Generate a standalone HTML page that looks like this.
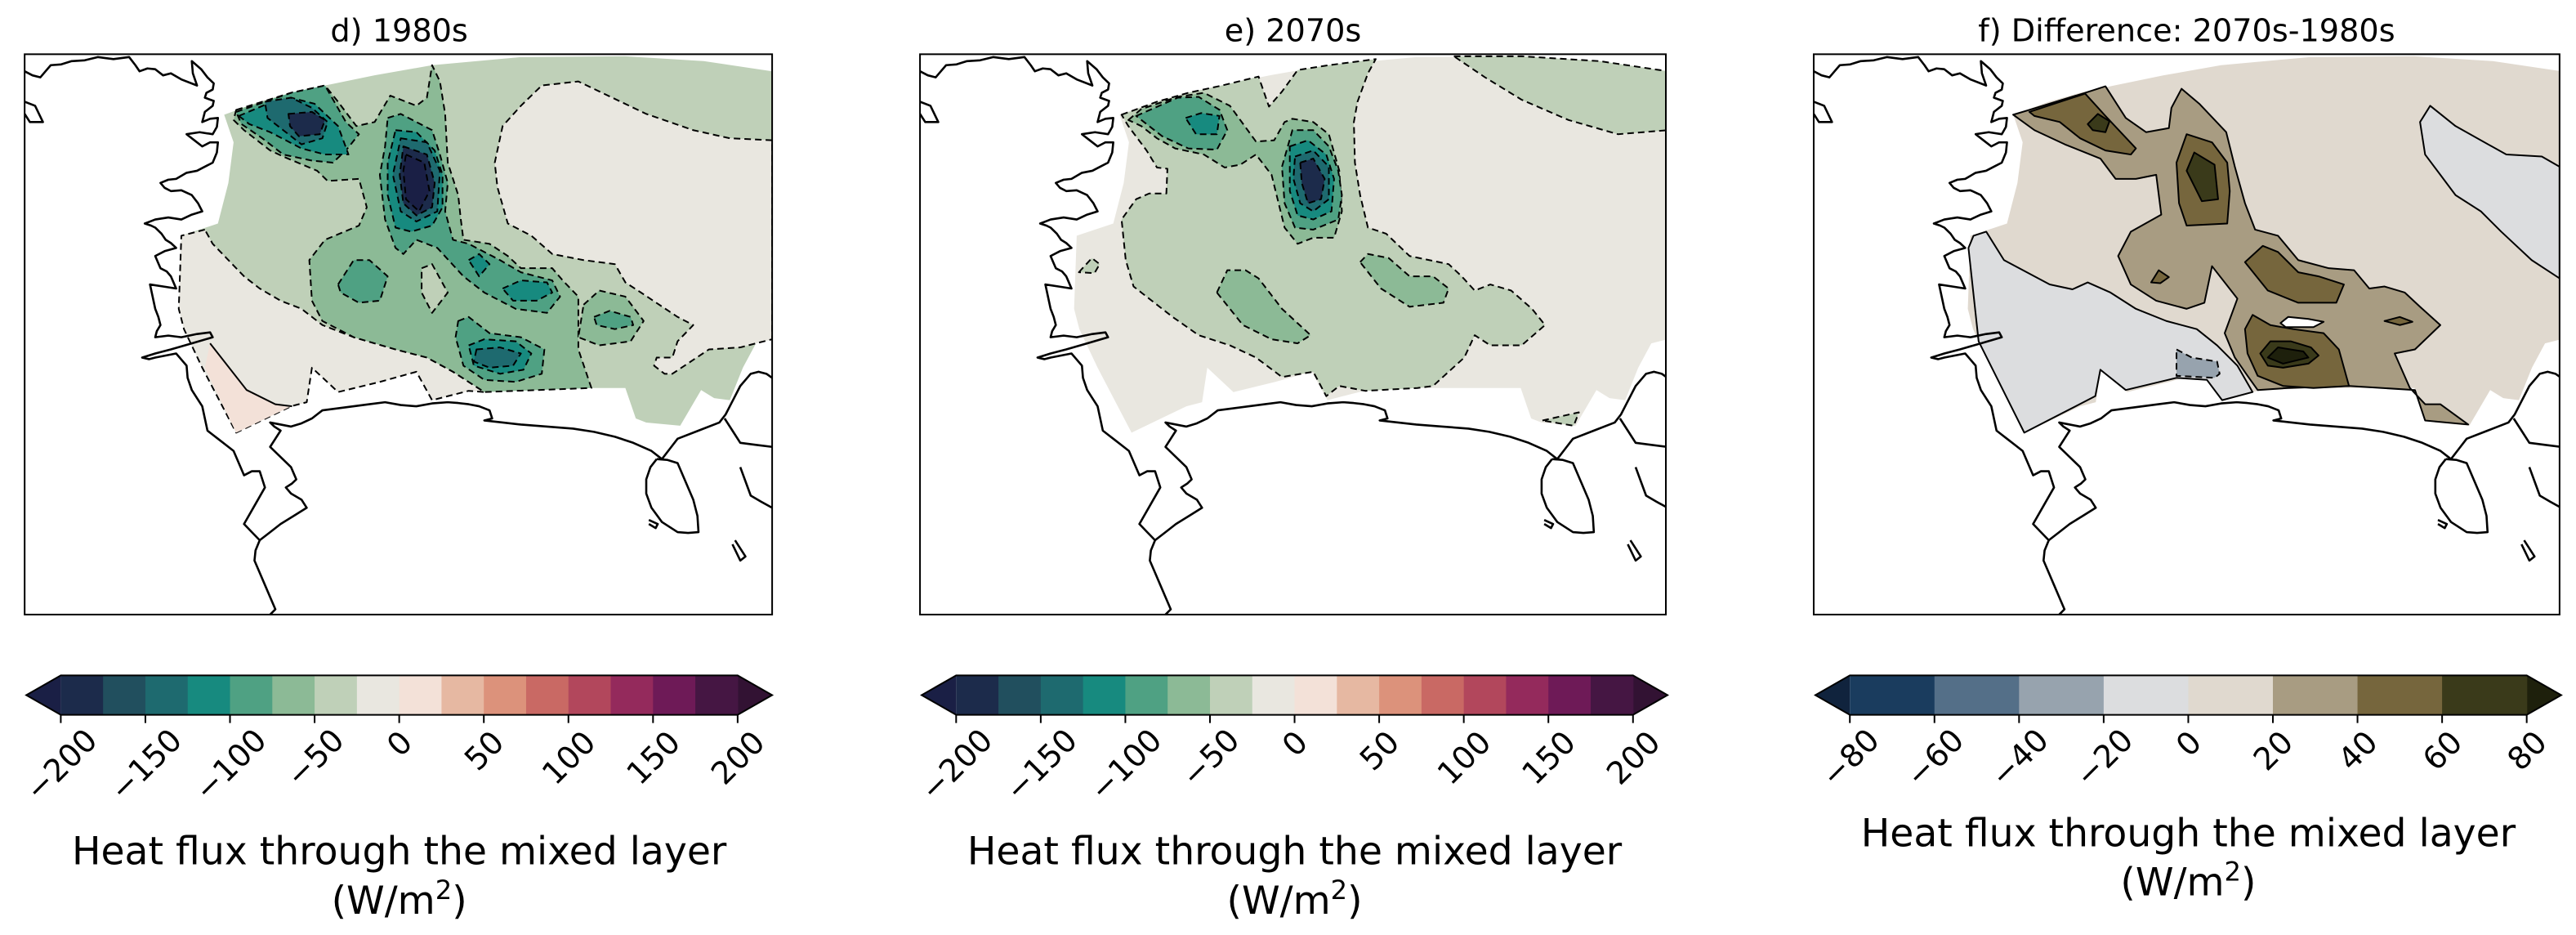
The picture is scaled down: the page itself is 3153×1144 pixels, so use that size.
<!DOCTYPE html>
<html><head><meta charset="utf-8"><style>
html,body{margin:0;padding:0;background:#fff;}
svg{display:block;font-family:"DejaVu Sans","Liberation Sans",sans-serif;}
</style></head><body>
<svg id="fig" width="3153" height="1144" viewBox="0 0 1568 569" preserveAspectRatio="none" xmlns="http://www.w3.org/2000/svg">
<defs>
<clipPath id="clipD"><rect x="15" y="33" width="455" height="341"/></clipPath>
<clipPath id="clipE"><rect x="560" y="33" width="454" height="341"/></clipPath>
<clipPath id="clipF"><rect x="1104" y="33" width="454" height="341"/></clipPath>
</defs>
<text x="243" y="25" font-size="19" text-anchor="middle">d) 1980s</text>
<text x="787" y="25" font-size="19" text-anchor="middle">e) 2070s</text>
<text x="1331" y="25" font-size="19" text-anchor="middle">f) Difference: 2070s-1980s</text>
<g id="panels"></g>
<g id="cbars"></g>
</svg>
<script>
// ---------- colorbar data ----------
const absLevels = [-200,-175,-150,-125,-100,-75,-50,-25,0,25,50,75,100,125,150,175,200];
const absColors = ["#1c2b4b","#214f5e","#1e6a6f","#178a7f","#4fa183","#8cba96","#bfd0b8","#e9e7e0","#f3e1d8","#e6b8a2","#dc927b","#c96964","#b2475c","#942a5c","#6e1a57","#451643"];
const absExtend = ["#1a1f45","#321233"];
const absTicks = [-200,-150,-100,-50,0,50,100,150,200];
const difLevels = [-80,-60,-40,-20,0,20,40,60,80];
const difColors = ["#1a3c5e","#546f88","#97a3ae","#dcdddf","#e0d9cf","#a89c82","#76663d","#3a3a1a"];
const difExtend = ["#10233d","#1e200c"];
const difTicks = [-80,-60,-40,-20,0,20,40,60,80];

// ---------- map geometry (zoom coords) ----------
const domain = [[432,282],[500,250],[560,228],[625,210],[720,185],[830,160],[1000,140],[1200,138],[1350,150],[1481,175],[1481,835],[1450,845],[1425,905],[1400,985],[1370,980],[1345,960],[1305,1048],[1240,1040],[1220,1030],[1200,955],[1130,955],[1000,955],[900,962],[830,985],[800,915],[730,940],[650,965],[600,905],[590,990],[560,1000],[455,1065],[390,905],[355,810],[345,760],[350,580],[420,550],[440,450],[450,350]];
const coast = [
 [[50,175],[65,185],[80,190],[90,175],[100,160],[120,158],[140,150],[165,148],[190,140],[220,145],[250,140],[262,160],[270,175],[285,168],[300,170],[315,185],[330,180],[350,195],[380,210],[372,180],[370,150],[388,170],[400,190],[412,205],[410,220],[398,228],[395,240],[412,248],[410,260],[395,275],[390,300],[405,292],[420,290],[418,312],[410,330],[385,325],[360,330],[375,345],[390,360],[405,350],[420,350],[418,375],[410,400],[395,410],[380,420],[360,425],[340,440],[325,442],[310,450],[318,462],[330,470],[350,468],[370,480],[382,500],[390,520],[370,528],[350,540],[325,535],[300,540],[290,545],[280,550],[292,555],[300,560],[312,575],[320,590],[330,598],[340,610],[318,618],[300,630],[306,648],[310,660],[322,668],[330,680],[335,695],[340,710],[315,705],[290,700],[295,730],[300,760],[306,780],[310,800],[303,815],[300,830],[325,826],[350,830],[380,822],[405,818],[410,830],[370,845],[330,860],[300,870],[275,880],[288,884],[300,880],[320,875],[340,870],[350,885],[360,900],[362,930],[370,960],[380,980],[390,1000],[395,1030],[400,1060],[410,1070],[420,1080],[435,1095],[450,1110],[460,1140],[470,1170],[485,1160],[500,1160],[505,1180],[510,1200],[490,1245],[470,1290],[485,1310],[500,1330],[492,1355],[490,1380],[500,1410],[510,1440],[520,1470],[530,1500],[520,1513]],
 [[500,1330],[520,1310],[540,1290],[565,1270],[590,1250],[585,1240],[580,1230],[560,1215],[550,1200],[562,1190],[570,1180],[565,1165],[560,1150],[540,1125],[520,1100],[530,1080],[540,1060],[528,1050],[520,1040],[540,1045],[560,1050],[580,1042],[600,1030],[610,1020],[620,1010],[650,1005],[680,1000],[710,995],[740,990],[770,997],[800,1000],[830,993],[860,990],[880,992],[900,995],[920,1000],[940,1010],[945,1030],[930,1035],[965,1040],[1000,1045],[1050,1050],[1100,1055],[1140,1063],[1180,1075],[1215,1090],[1250,1110],[1270,1130],[1285,1105],[1300,1080],[1340,1060],[1380,1040],[1392,1020],[1400,1000],[1410,975],[1420,950],[1430,935],[1440,920],[1455,915],[1470,920],[1481,930]],
 [[1260,1130],[1280,1132],[1300,1140],[1315,1185],[1330,1230],[1338,1270],[1340,1310],[1320,1312],[1300,1310],[1270,1285],[1250,1250],[1240,1215],[1240,1180],[1248,1150],[1260,1130]],
 [[1390,1030],[1405,1060],[1420,1090],[1450,1095],[1481,1100]],
 [[1420,1150],[1430,1185],[1440,1220],[1460,1235],[1481,1250]],
 [[50,250],[70,260],[85,300],[60,300],[50,280]],
 [[1410,1330],[1430,1370],[1420,1380],[1405,1340]],
 [[1245,1280],[1262,1290],[1258,1300],[1245,1290]]
];
const dFills = [
 ["#e9e7e0",[[1481,345],[1400,340],[1330,320],[1240,280],[1110,200],[1040,210],[1000,260],[965,310],[950,400],[955,460],[975,550],[1020,580],[1060,625],[1120,640],[1180,650],[1200,695],[1230,720],[1300,780],[1330,800],[1300,840],[1290,880],[1260,880],[1255,900],[1275,920],[1290,920],[1360,860],[1420,855],[1450,845],[1481,835]]],
 ["#e9e7e0",[[395,565],[350,580],[345,760],[355,810],[390,905],[455,1065],[560,1000],[590,990],[600,905],[650,965],[730,940],[800,915],[830,985],[900,962],[930,965],[870,915],[820,880],[760,860],[680,830],[620,800],[580,760],[540,740],[500,710],[470,680],[440,640],[410,600]]],
 ["#f3e1d8",[[395,905],[405,845],[475,960],[530,995],[560,1000],[455,1065]]],
 ["#8cba96",[[455,270],[560,228],[625,210],[650,250],[685,310],[720,300],[750,235],[800,260],[820,240],[830,160],[845,200],[855,280],[860,400],[880,480],[885,540],[890,590],[940,600],[975,630],[1000,660],[1060,660],[1080,690],[1110,730],[1110,860],[1135,955],[930,965],[870,915],[820,880],[760,860],[680,830],[620,790],[600,740],[595,640],[625,590],[690,555],[705,510],[690,440],[630,445],[610,420],[545,385],[520,370],[470,320],[450,295]]],
 ["#bfd0b8",[[810,660],[830,650],[860,720],[830,770],[810,720]]],
 ["#8cba96",[[1120,750],[1150,715],[1200,730],[1235,790],[1210,840],[1150,850],[1110,830]]],
 ["#4fa183",[[455,275],[560,228],[625,210],[665,300],[690,330],[665,370],[640,400],[600,395],[545,380],[505,340],[465,305]]],
 ["#4fa183",[[745,290],[770,280],[830,320],[845,380],[860,450],[855,520],[870,590],[900,600],[960,640],[1000,670],[1060,690],[1075,730],[1050,770],[990,760],[930,720],[890,680],[840,610],[800,590],[775,625],[760,610],[740,540],[730,430],[740,360]]],
 ["#4fa183",[[880,790],[900,780],[940,820],[1000,830],[1045,860],[1040,920],[990,940],[930,935],[890,900],[875,830]]],
 ["#4fa183",[[650,700],[680,640],[710,640],[745,680],[730,740],[690,745],[655,720]]],
 ["#4fa183",[[1140,780],[1170,765],[1210,780],[1215,800],[1180,810],[1145,800]]],
 ["#178a7f",[[460,285],[515,255],[560,240],[605,255],[650,310],[670,380],[625,380],[580,365],[520,325],[480,305]]],
 ["#178a7f",[[760,320],[800,325],[835,370],[850,430],[850,510],[830,555],[790,570],[760,560],[745,480],[745,400]]],
 ["#178a7f",[[900,640],[920,625],[940,650],[920,680]]],
 ["#178a7f",[[900,850],[930,835],[990,840],[1020,870],[1005,910],[960,920],[910,900]]],
 ["#178a7f",[[965,710],[1000,690],[1050,695],[1060,720],[1030,740],[985,740]]],
 ["#1e6a6f",[[510,250],[560,240],[600,265],[630,300],[620,340],[580,355],[545,320],[515,290]]],
 ["#1e6a6f",[[770,340],[820,350],[845,420],[840,520],[800,545],[770,520],[755,430]]],
 ["#1e6a6f",[[915,860],[960,855],[1000,870],[985,900],[940,905],[910,890]]],
 ["#1c2b4b",[[555,280],[600,275],[625,295],[615,330],[575,335],[558,310]]],
 ["#1c2b4b",[[775,360],[820,380],[835,450],[830,510],[800,530],[775,500],[768,430]]],
 ["#1a1f45",[[780,380],[815,400],[825,470],[805,520],[780,490],[775,420]]]
];
const eFills = [
 ["#bfd0b8",[[1070,138],[1200,138],[1350,150],[1481,175],[1481,320],[1385,330],[1290,295],[1200,245],[1130,190]]],
 ["#bfd0b8",[[432,282],[500,250],[560,228],[625,210],[695,188],[715,262],[740,225],[770,172],[830,160],[920,145],[905,180],[885,250],[878,300],[880,400],[890,480],[905,560],[940,575],[985,630],[1060,650],[1085,680],[1110,715],[1140,700],[1180,715],[1220,760],[1245,800],[1200,850],[1140,850],[1110,825],[1090,880],[1030,950],[1000,955],[900,962],[850,950],[825,975],[800,915],[740,928],[690,880],[640,850],[580,825],[530,780],[455,705],[440,640],[432,540],[460,490],[485,476],[518,476],[520,415],[500,412],[480,370],[445,310]]],
 ["#bfd0b8",[[350,670],[375,635],[390,650],[380,672]]],
 ["#bfd0b8",[[1240,1035],[1310,1015],[1300,1048]]],
 ["#8cba96",[[445,295],[470,268],[540,238],[590,228],[640,260],[690,348],[725,345],[745,300],[760,292],[800,300],[830,330],[850,420],[855,520],[840,585],[800,585],[770,600],[745,560],[720,430],[690,380],[660,405],[630,412],[590,380],[535,365],[500,340],[470,310]]],
 ["#8cba96",[[615,720],[635,665],[670,665],[695,685],[740,760],[795,825],[770,845],[720,835],[665,800],[640,760]]],
 ["#8cba96",[[890,645],[905,625],[945,635],[985,680],[1030,680],[1060,710],[1050,745],[985,755],[930,710]]],
 ["#4fa183",[[460,285],[540,240],[580,238],[620,270],[635,320],[615,368],[560,365],[510,335],[480,305]]],
 ["#4fa183",[[740,410],[760,320],[800,320],[830,360],[848,420],[855,480],[848,540],[800,565],[765,560],[745,500]]],
 ["#178a7f",[[555,290],[585,278],[620,285],[615,330],[575,330]]],
 ["#178a7f",[[755,360],[790,345],[825,380],[840,440],[835,520],[800,540],[770,530],[755,470]]],
 ["#1e6a6f",[[765,385],[800,370],[830,410],[830,490],[800,520],[775,500],[762,440]]],
 ["#1c2b4b",[[775,400],[800,390],[822,440],[815,490],[790,500],[778,450]]]
];
const fFills = [
 ["#dcdddf",[[405,570],[440,640],[530,700],[575,712],[605,695],[650,720],[700,760],[760,790],[820,810],[860,850],[900,900],[930,965],[870,985],[840,935],[780,930],[680,960],[630,910],[620,975],[480,1065],[390,840],[370,610],[380,580]]],
 ["#dcdddf",[[1280,260],[1330,310],[1430,380],[1500,385],[1535,410],[1535,685],[1480,640],[1420,570],[1380,520],[1330,480],[1300,430],[1270,380],[1260,300]]],
 ["#97a3ae",[[780,860],[810,880],[860,890],[865,920],[855,930],[780,925]]],
 ["#a89c82",[[458,282],[490,270],[600,228],[640,212],[680,290],[720,325],[765,315],[770,265],[790,218],[825,255],[878,325],[895,410],[915,500],[935,565],[980,580],[1020,640],[1080,660],[1130,665],[1160,710],[1190,705],[1230,720],[1260,755],[1300,800],[1250,860],[1210,870],[1240,955],[1270,995],[1300,995],[1355,1045],[1270,1035],[1250,960],[1120,950],[1000,955],[940,960],[920,925],[895,880],[875,820],[900,735],[850,655],[835,745],[800,760],[740,740],[690,700],[665,630],[690,570],[750,528],[740,430],[700,440],[660,440],[630,390],[560,355],[500,320]]],
 ["#76663d",[[490,275],[600,230],[640,285],[700,365],[690,380],[640,370],[590,340],[550,300],[500,285]]],
 ["#76663d",[[780,400],[800,330],[850,350],[880,400],[885,470],[880,550],[800,555],[785,500]]],
 ["#76663d",[[915,645],[950,605],[980,620],[1020,670],[1060,680],[1110,700],[1095,745],[1020,745],[960,715]]],
 ["#76663d",[[730,695],[745,665],[765,682],[748,697]]],
 ["#76663d",[[915,810],[930,775],[965,800],[1010,810],[1070,820],[1100,860],[1120,950],[1050,955],[990,950],[940,925],[920,870]]],
 ["#76663d",[[1190,790],[1220,780],[1245,792],[1220,800]]],
 ["#ffffff",[[985,795],[1000,780],[1040,785],[1070,792],[1050,805],[995,805]]],
 ["#3a3a1a",[[605,305],[625,280],[648,298],[640,325],[615,320]]],
 ["#3a3a1a",[[800,420],[815,375],[855,405],[862,490],[830,495]]],
 ["#3a3a1a",[[945,870],[965,840],[1005,840],[1045,855],[1060,875],[1040,895],[990,905],[960,900]]],
 ["#1e200c",[[960,880],[980,855],[1030,865],[1040,880],[990,895]]]
];

const NS="http://www.w3.org/2000/svg";
function mk(tag, attrs, parent){const e=document.createElementNS(NS,tag);for(const k in attrs)e.setAttribute(k,attrs[k]);parent.appendChild(e);return e;}
function pts(a){return a.map(p=>p[0]+","+p[1]).join(" ");}
const panelsG=document.getElementById('panels');

const PT = {
 d:{x0:15, zx0:50, sx:455/1431, clip:"clipD", fills:dFills, dash:true},
 e:{x0:560, zx0:45, sx:454/1432, clip:"clipE", fills:eFills, dash:true},
 f:{x0:1104, zx0:65, sx:454/1470, clip:"clipF", fills:fFills, dash:false}
};
const SY=341/1380, Y0=33, ZY0=133;
function tf(x0,zx0,sx){return `translate(${x0},${Y0}) scale(${sx},${SY}) translate(${-zx0},${-ZY0})`;}
const domColor={d:"#bfd0b8", e:"#e9e7e0", f:"#e0d9cf"};

["d","e","f"].forEach(k=>{
  const P=PT[k];
  const g=mk('g',{'clip-path':`url(#${P.clip})`},panelsG);
  
  
  const dg=mk('g',{transform:`translate(${P.x0-15},0) `+tf(15,50,455/1431)},g);
  const dom=mk('polygon',{points:pts(domain),fill:domColor[k]},dg);
  
  
  const cg=mk('g',{transform:tf(P.x0,P.zx0,P.sx)},g);
  P.fills.forEach((f,i)=>{
    const pg=mk('polygon',{points:pts(f[1]),fill:f[0],stroke:"#000","stroke-width":2,"stroke-linejoin":"round","vector-effect":"non-scaling-stroke"},cg);
    if(P.dash || f[0]==="#97a3ae") pg.setAttribute('stroke-dasharray','8,5');
    if(k==="d" && f[0]==="#f3e1d8") pg.setAttribute('stroke','none');
    
    
  });
  if(k==="d"){ mk('polyline',{points:"405,845 475,960 530,995 562,1000",fill:"none",stroke:"#000","stroke-width":2,"vector-effect":"non-scaling-stroke"},cg); }
  const lg=mk('g',{transform:`translate(${P.x0-15},0) `+tf(15,50,455/1431)},g);
  coast.forEach(c=>{
    const pl=mk('polyline',{points:pts(c),fill:"none",stroke:"#000","stroke-width":2.6,"stroke-linejoin":"round","vector-effect":"non-scaling-stroke"},lg);
    
    
  });
  const fr=mk('rect',{x:P.x0,y:33,width:(k==="d"?455:454),height:341,fill:"none",stroke:"#000","stroke-width":1},panelsG);
  
  
});

// ---------- colorbars ----------
const cb=document.getElementById('cbars');
function colorbar(x0,x1,levels,colors,ext,ticks,name,labY){
  const g=mk('g',{},cb);
  
  
  const tip=21, y0=411, y1=435, ym=(y0+y1)/2;
  const xs=v=>x0+tip+(v-levels[0])/(levels[levels.length-1]-levels[0])*(x1-x0-2*tip);
  mk('polygon',{points:`${x0},${ym} ${x0+tip},${y0} ${x0+tip},${y1}`,fill:ext[0]},g);
  mk('polygon',{points:`${x1},${ym} ${x1-tip},${y0} ${x1-tip},${y1}`,fill:ext[1]},g);
  colors.forEach((c,i)=>{
    const r=mk('rect',{x:xs(levels[i]),y:y0,width:xs(levels[i+1])-xs(levels[i])+0.3,height:y1-y0,fill:c},g);
    
    
  });
  mk('polygon',{points:`${x0},${ym} ${x0+tip},${y0} ${x1-tip},${y0} ${x1},${ym} ${x1-tip},${y1} ${x0+tip},${y1}`,fill:"none",stroke:"#000","stroke-width":1},g);
  ticks.forEach(t=>{
    const x=xs(t);
    mk('line',{x1:x,y1:y1,x2:x,y2:y1+5,stroke:"#000","stroke-width":1},g);
    const s=(t<0?"\u2212":"")+Math.abs(t);
    const fs=19;
    const w=s.length*0.64*fs;
    const h=(w+0.75*fs)*0.707;
    const cy=443+h/2;
    const tx=mk('text',{x:x,y:cy+fs*0.36,"font-size":fs,"text-anchor":"middle",transform:`rotate(-45 ${x} ${cy})`},g);
    tx.textContent=s;
    
    
  });
  const cx=(x0+x1)/2;
  const l1=mk('text',{x:cx,y:labY,"font-size":23.5,"text-anchor":"middle"},g);
  l1.textContent="Heat flux through the mixed layer";
  
  
  const l2=mk('text',{x:cx,y:labY+30,"font-size":23.5,"text-anchor":"middle"},g);
  l2.innerHTML='(W/m<tspan dy="-9" font-size="16">2</tspan><tspan dy="9">)</tspan>';
  
  
}
colorbar(16,470,absLevels,absColors,absExtend,absTicks,"colorbar-d",526);
colorbar(561,1015,absLevels,absColors,absExtend,absTicks,"colorbar-e",526);
colorbar(1105,1559,difLevels,difColors,difExtend,difTicks,"colorbar-f",515);
</script>
</body></html>
